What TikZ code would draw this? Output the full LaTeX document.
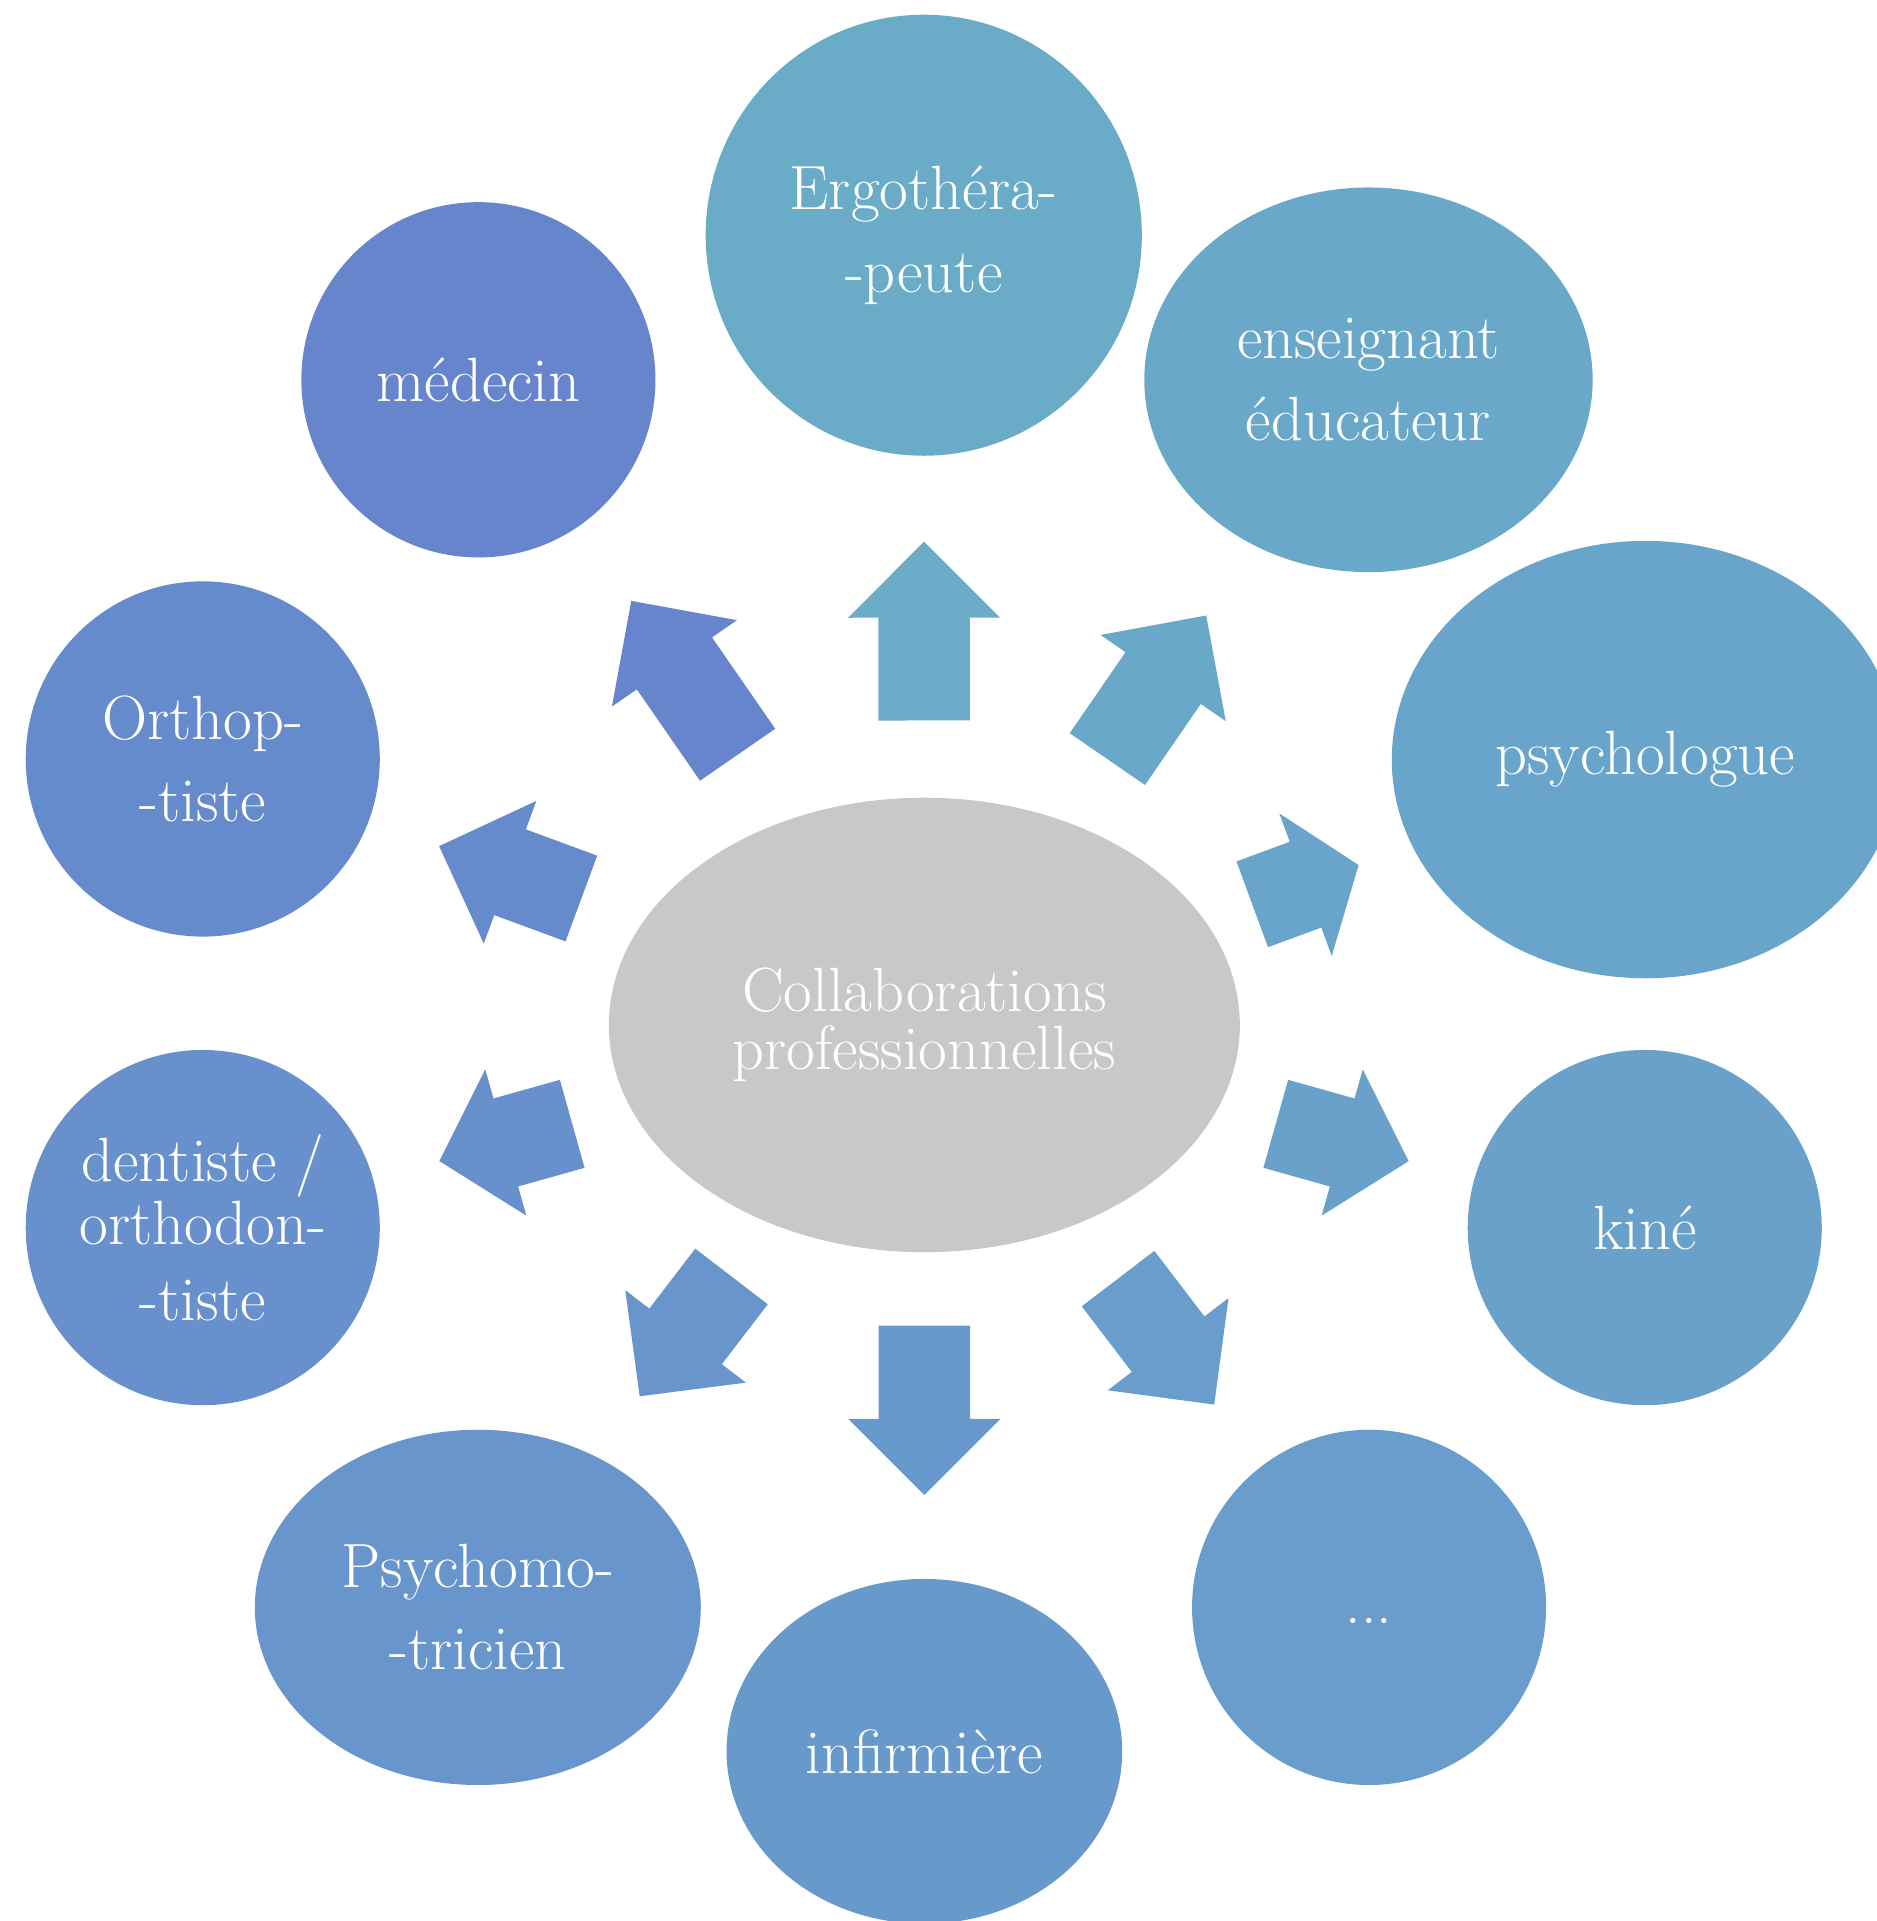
\documentclass[tikz,border=0pt]{standalone}
\usetikzlibrary{shapes.geometric,calc}
\definecolor{cCenter}{HTML}{C8C8C8}
\definecolor{cErgo}{HTML}{6AACC8}
\definecolor{cEns}{HTML}{6AA8C9}
\definecolor{cPsy}{HTML}{69A5CA}
\definecolor{cKine}{HTML}{69A1CA}
\definecolor{cDots}{HTML}{699DCB}
\definecolor{cInf}{HTML}{6899CB}
\definecolor{cPsm}{HTML}{6795CC}
\definecolor{cDent}{HTML}{6790CC}
\definecolor{cOrth}{HTML}{668BCC}
\definecolor{cMed}{HTML}{6685CC}
% #1 from node, #2 to node, #3 tail distance, #4 tip distance, #5 head length, #6 colour
\newcommand\profarrow[6]{%
  \coordinate (ta) at ($(#1)!#3!(#2)$);
  \coordinate (tp) at ($(#1)!#4!(#2)$);
  \coordinate (hb) at ($(tp)!#5!(ta)$);
  \fill[#6] ($(ta)!0.457cm!90:(tp)$) -- ($(hb)!0.457cm!90:(tp)$)
    -- ($(hb)!0.760cm!90:(tp)$) -- (tp) -- ($(hb)!0.760cm!-90:(tp)$)
    -- ($(hb)!0.457cm!-90:(tp)$) -- ($(ta)!0.457cm!-90:(tp)$) -- cycle;
}
\tikzset{
  bubble/.style={ellipse, inner sep=0pt, text=white, align=center,
    font=\fontsize{17.8}{23.4}\selectfont},
  small circle/.style={bubble, minimum width=3.541cm, minimum height=3.553cm}
}
\begin{document}
\begin{tikzpicture}[x=0.012252cm, y=-0.012252cm]
\useasboundingbox (0,0) rectangle (1532,1568);
\clip (0,0) rectangle (1532,1568);

\node[bubble, fill=cCenter, minimum width=6.310cm, minimum height=4.545cm,
  font=\fontsize{17.8}{16.4}\selectfont] (c) at (754.5,836.6)
  {Collaborations\\professionnelles};

\node[bubble, fill=cErgo, minimum width=4.362cm, minimum height=4.411cm] (ergo) at (754,192) {Ergothéra-\\-peute};
\node[bubble, fill=cEns, minimum width=4.484cm, minimum height=3.847cm] (ens) at (1117,310) {enseignant\\éducateur};
\node[bubble, fill=cPsy, minimum width=5.072cm, minimum height=4.374cm] (psy) at (1343,620) {psychologue};
\node[small circle, fill=cKine] (kine) at (1342.5,1002) {kiné};
\node[small circle, fill=cDots] (dots) at (1117.5,1312) {\strut...};
\node[bubble, fill=cInf, minimum width=3.957cm, minimum height=3.448cm] (inf) at (754.5,1429.5) {infirmière};
\node[bubble, fill=cPsm, minimum width=4.460cm, minimum height=3.553cm] (psm) at (390,1312) {Psychomo-\\-tricien};
\node[small circle, fill=cDent, font=\fontsize{17.8}{18.1}\selectfont] (dent) at (165.5,1002) {dentiste /\\orthodon-\\[3.5pt]-tiste};
\node[small circle, fill=cOrth] (orth) at (165.5,619.5) {Orthop-\\-tiste};
\node[small circle, fill=cMed] (med) at (390.5,310) {médecin};

\profarrow{c}{ergo}{3.045cm}{4.833cm}{0.760cm}{cErgo}
\profarrow{c}{ens}{3.228cm}{4.972cm}{0.760cm}{cEns}
\profarrow{c}{psy}{3.494cm}{4.628cm}{0.566cm}{cPsy}
\profarrow{c}{kine}{3.651cm}{5.031cm}{0.690cm}{cKine}
\profarrow{c}{dots}{3.192cm}{4.777cm}{0.760cm}{cDots}
\profarrow{c}{inf}{3.007cm}{4.700cm}{0.760cm}{cInf}
\profarrow{c}{psm}{3.170cm}{4.680cm}{0.755cm}{cPsm}
\profarrow{c}{dent}{3.658cm}{5.038cm}{0.690cm}{cDent}
\profarrow{c}{orth}{3.656cm}{5.172cm}{0.756cm}{cOrth}
\profarrow{c}{med}{3.285cm}{5.156cm}{0.760cm}{cMed}
\end{tikzpicture}
\end{document}
